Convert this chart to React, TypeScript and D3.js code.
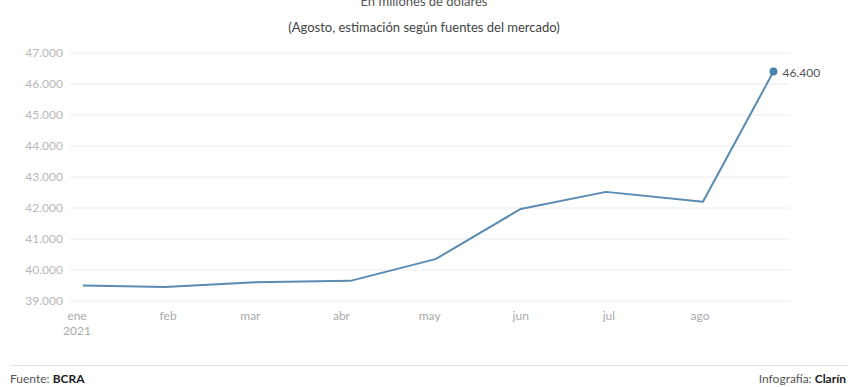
import React from "react";
import * as d3 from "d3";

const dates = ["2021-01-03", "2021-01-31", "2021-03-01", "2021-04-04", "2021-05-03", "2021-06-01", "2021-06-30", "2021-08-02", "2021-08-26"];
const values = [39500, 39450, 39600, 39650, 40350, 41970, 42520, 42200, 46400];
const monthLabels = ["ene", "feb", "mar", "abr", "may", "jun", "jul", "ago"];
const monthStarts = ["2021-01-01", "2021-02-01", "2021-03-01", "2021-04-01", "2021-05-01", "2021-06-01", "2021-07-01", "2021-08-01"];
const yTicks = [39000, 40000, 41000, 42000, 43000, 44000, 45000, 46000, 47000];
const title1 = "En millones de dólares";
const title2 = "(Agosto, estimación según fuentes del mercado)";
const lastLabel = "46.400";

const W = 848;
const H = 387;
const FONT = "Lato, 'Open Sans', sans-serif";

export default function App() {
  const parse = d3.utcParse("%Y-%m-%d");
  const x = d3
    .scaleUtc()
    .domain([parse("2021-01-01")!, parse("2021-08-01")!])
    .range([77, 700]);
  const y = d3.scaleLinear().domain([39000, 47000]).range([301, 53]);
  const fmt = (v: number) => d3.format(",")(v).replace(/,/g, ".");
  const pts = dates.map((d, i) => [x(parse(d)!), y(values[i])] as [number, number]);
  const line = d3.line<[number, number]>()(pts) || "";
  const last = pts[pts.length - 1];

  return (
    <svg
      width={W}
      height={H}
      style={{ position: "absolute", left: 0, top: 0, background: "#fff" }}
      fontFamily={FONT}
    >
      <text x={424} y={6} textAnchor="middle" fontSize={13} fill="#555">
        {title1}
      </text>
      <text x={424} y={32} textAnchor="middle" fontSize={13} fill="#444">
        {title2}
      </text>
      {yTicks.map((t) => (
        <g key={t}>
          <line x1={70} x2={790} y1={y(t)} y2={y(t)} stroke="#ececec" strokeWidth={1} />
          <text x={63} y={y(t) + 4} textAnchor="end" fontSize={12} fill="#b8b8b8">
            {fmt(t)}
          </text>
        </g>
      ))}
      {monthLabels.map((m, i) => (
        <text
          key={m}
          x={x(parse(monthStarts[i])!)}
          y={320}
          textAnchor="middle"
          fontSize={12}
          fill="#aaa"
        >
          {m}
        </text>
      ))}
      <text x={x(parse(monthStarts[0])!)} y={335} textAnchor="middle" fontSize={12} fill="#aaa">
        2021
      </text>
      <path d={line} fill="none" stroke="#5a8bb0" strokeWidth={2} strokeLinejoin="round" />
      <circle cx={last[0]} cy={last[1]} r={4} fill="#4a82ad" />
      <text x={last[0] + 9} y={last[1] + 5} fontSize={12} fill="#555">
        {lastLabel}
      </text>
      <line x1={10} x2={848} y1={365.5} y2={365.5} stroke="#e2e2e2" strokeWidth={1} />
      <text x={10} y={383} fontSize={12} fill="#555">
        Fuente: <tspan fontWeight="bold" fill="#222">BCRA</tspan>
      </text>
      <text x={846} y={383} textAnchor="end" fontSize={12} fill="#555">
        Infografía: <tspan fontWeight="bold" fill="#222">Clarín</tspan>
      </text>
    </svg>
  );
}
